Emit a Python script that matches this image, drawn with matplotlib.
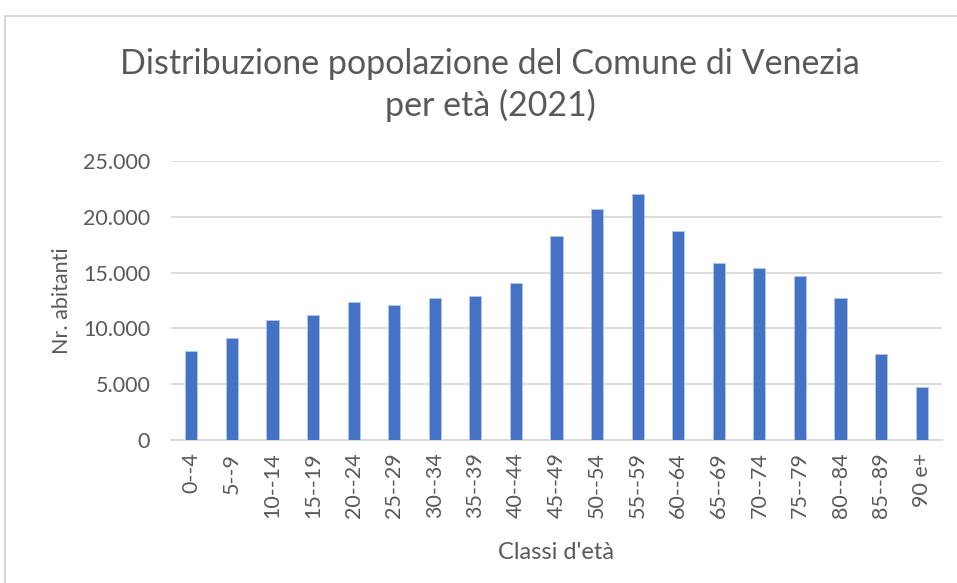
import matplotlib
matplotlib.use("Agg")
import matplotlib.pyplot as plt
from matplotlib.patches import Rectangle
from matplotlib.ticker import FuncFormatter
import numpy as np

# Age classes and resident counts
classi = ["0--4", "5--9", "10--14", "15--19", "20--24", "25--29", "30--34",
          "35--39", "40--44", "45--49", "50--54", "55--59", "60--64",
          "65--69", "70--74", "75--79", "80--84", "85--89", "90 e+"]
abitanti = [8010, 9130, 10740, 11220, 12350, 12110, 12680, 12920, 14080,
            18270, 20690, 22050, 18750, 15890, 15420, 14730, 12680, 7680, 4790]
y_ticks = [0, 5000, 10000, 15000, 20000, 25000]

bar_color = "#4472c4"
text_color = "#595959"
grid_color = "#d9d9d9"

plt.rcParams['font.family'] = ['Lato', 'DejaVu Sans']

W, H = 957, 583
fig = plt.figure(figsize=(W / 100, H / 100), dpi=100)

# light frame around the chart area
fig.patches.append(Rectangle((5 / W, -0.01), 1.0, 1 - 16 / H + 0.01,
                             transform=fig.transFigure, fill=False,
                             edgecolor="#d0d0d0", linewidth=1.2))

ax = fig.add_axes([171 / W, 1 - 440 / H, (942 - 171) / W, (440 - 161) / H])

x = np.arange(len(classi))
ax.bar(x, abitanti, width=0.3, color=bar_color, edgecolor="#b4c7e7",
       linewidth=0.6, zorder=3)

ax.set_xlim(-0.5, len(classi) - 0.5)
ax.set_ylim(0, 25000)
ax.set_yticks(y_ticks)
ax.yaxis.set_major_formatter(FuncFormatter(lambda v, p: f"{int(v):,}".replace(",", ".")))
ax.grid(axis="y", color=grid_color, linewidth=1.3, zorder=0)

ax.set_xticks(x)
ax.set_xticklabels(classi, rotation=90)
for s in ["top", "right", "left"]:
    ax.spines[s].set_visible(False)
ax.spines["bottom"].set_color(grid_color)
ax.spines["bottom"].set_linewidth(1.3)
ax.tick_params(axis="both", length=0, colors=text_color)
ax.tick_params(axis="x", pad=9, labelsize=15.5)
ax.tick_params(axis="y", pad=15, labelsize=15.5)

ax.set_ylabel("Nr. abitanti", fontsize=15.5, color=text_color, labelpad=8)
ax.set_xlabel("Classi d'età", fontsize=17, color=text_color, labelpad=17)

fig.text(490 / W, 1 - 85 / H,
         "Distribuzione popolazione del Comune di Venezia\nper età (2021)",
         ha="center", va="center", fontsize=24.5, color=text_color,
         linespacing=1.32)

fig.savefig("out.png", dpi=100)
